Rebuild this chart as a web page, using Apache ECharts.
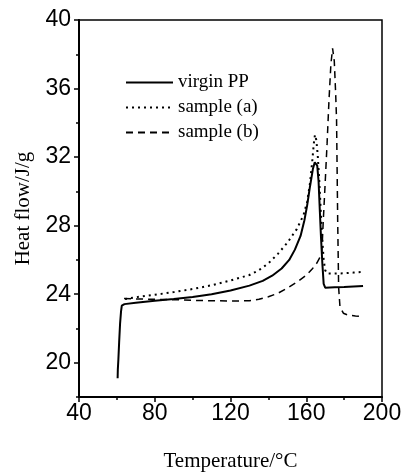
<!DOCTYPE html>
<html>
<head>
<meta charset="utf-8">
<script src="https://cdn.jsdelivr.net/npm/echarts@6/dist/echarts.min.js"></script>
<style>
  html, body { margin: 0; padding: 0; background: #fff; }
  #chart { width: 401px; height: 472px; }
</style>
</head>
<body>
<div id="chart"></div>
<script>
// virgin PP (solid)
var virginT = [60.4, 60.5, 60.8, 61.2, 61.7, 62.2, 62.6, 64, 70, 80, 90, 100, 110, 120, 130, 137, 142, 147, 151, 154, 157, 159, 160.5, 162, 163.5, 164.5, 165.1, 165.8, 166.5, 167.2, 167.8, 168.5, 169.2, 170, 175, 180, 185, 190];
var virginH = [19.1, 19.6, 20.2, 21.2, 22.3, 23.0, 23.33, 23.42, 23.5, 23.62, 23.72, 23.83, 24.0, 24.22, 24.5, 24.78, 25.08, 25.5, 26.0, 26.6, 27.4, 28.3, 29.2, 30.3, 31.3, 31.7, 31.8, 31.5, 30.6, 28.8, 27.3, 25.8, 24.6, 24.38, 24.4, 24.42, 24.45, 24.48];

// sample (a) (dotted)
var sampleAT = [64.3, 70, 80, 90, 100, 110, 120, 130, 135, 140, 145, 150, 155, 158.5, 160.5, 162, 163.2, 164, 164.6, 165.3, 166, 166.8, 167.6, 168.4, 169.2, 170, 171, 175, 180, 185, 190];
var sampleAH = [23.72, 23.82, 23.97, 24.12, 24.3, 24.52, 24.8, 25.12, 25.4, 25.8, 26.35, 27.0, 27.8, 28.6, 29.4, 30.5, 31.8, 32.8, 33.3, 33.0, 32.2, 30.8, 29.0, 27.3, 26.0, 25.4, 25.2, 25.2, 25.22, 25.26, 25.3];

// sample (b) (dashed)
var sampleBT = [63.8, 70, 80, 90, 100, 110, 120, 130, 135, 140, 145, 150, 155, 160, 163, 165.5, 167, 168.2, 169, 170, 171, 172, 173, 173.9, 174.8, 175.5, 176, 176.6, 177.1, 177.8, 179.6, 182, 186, 190];
var sampleBH = [23.75, 23.72, 23.7, 23.68, 23.64, 23.62, 23.6, 23.62, 23.7, 23.85, 24.05, 24.35, 24.7, 25.1, 25.45, 25.8, 26.1, 26.4, 28.3, 30.5, 32.8, 35.3, 37.4, 38.35, 37.6, 35.8, 34.2, 28.3, 24.4, 23.27, 22.89, 22.78, 22.73, 22.69];

var yLabels = [20, 24, 28, 32, 36, 40];

function pairs(xs, ys) {
    var out = [];
    for (let i = 0; i < xs.length; i++) {
        out.push([xs[i], ys[i]]);
    }
    return out;
}

var myChart = echarts.init(document.getElementById('chart'));

var numFont = 'Liberation Sans';
var textFont = 'Liberation Serif';

var chart_option = {
    backgroundColor: '#fff',
    animation: false,
    grid: {
        left: 79,
        right: 19,
        top: 20,
        bottom: 75,
        containLabel: false,
        outerBoundsMode: 'none',
        show: true,
        borderColor: '#000',
        borderWidth: 1.5
    },
    legend: {
        orient: 'vertical',
        left: 125,
        top: 73,
        padding: 0,
        itemWidth: 47,
        itemHeight: 14,
        itemGap: 6,
        itemStyle: { opacity: 0 },
        textStyle: {
            fontFamily: textFont,
            fontSize: 19,
            color: '#000'
        },
        data: ['virgin PP', 'sample (a)', 'sample (b)']
    },
    xAxis: {
        type: 'value',
        min: 40,
        max: 200,
        interval: 40,
        name: 'Temperature/°C',
        nameLocation: 'middle',
        nameGap: 54,
        nameTextStyle: {
            fontFamily: textFont,
            fontSize: 21,
            color: '#000'
        },
        axisLine: { lineStyle: { color: '#000', width: 2 } },
        axisTick: { inside: false, length: 5, lineStyle: { color: '#000', width: 1.5 } },
        minorTick: { show: true, splitNumber: 2, length: 3, lineStyle: { color: '#000', width: 1.5 } },
        axisLabel: {
            margin: 5,
            fontFamily: numFont,
            fontSize: 23,
            color: '#000'
        },
        splitLine: { show: false }
    },
    yAxis: [{
        type: 'value',
        min: 18,
        max: 40,
        name: 'Heat flow/J/g',
        nameLocation: 'middle',
        nameGap: 45,
        nameTextStyle: {
            fontFamily: textFont,
            fontSize: 21,
            color: '#000'
        },
        axisLine: { show: true, lineStyle: { color: '#000', width: 2 } },
        axisTick: { show: true, inside: false, length: 5, customValues: yLabels, lineStyle: { color: '#000', width: 1.5 } },
        axisLabel: {
            margin: 8,
            customValues: yLabels,
            fontFamily: numFont,
            fontSize: 23,
            color: '#000'
        },
        splitLine: { show: false }
    }, {
        // minor ticks every 2
        type: 'value',
        position: 'left',
        min: 18,
        max: 40,
        interval: 2,
        axisLine: { show: false },
        axisTick: { show: true, inside: false, length: 3, lineStyle: { color: '#000', width: 1.5 } },
        axisLabel: { show: false },
        splitLine: { show: false }
    }],
    series: [{
        name: 'virgin PP',
        type: 'line',
        symbol: 'none',
        data: pairs(virginT, virginH),
        lineStyle: { color: '#000', width: 2, type: 'solid' },
        itemStyle: { color: '#000' }
    }, {
        name: 'sample (a)',
        type: 'line',
        symbol: 'none',
        data: pairs(sampleAT, sampleAH),
        lineStyle: { color: '#000', width: 2, type: [2, 4] },
        itemStyle: { color: '#000' }
    }, {
        name: 'sample (b)',
        type: 'line',
        symbol: 'none',
        data: pairs(sampleBT, sampleBH),
        lineStyle: { color: '#000', width: 1.5, type: [7, 5] },
        itemStyle: { color: '#000' }
    }]
};
myChart.setOption(chart_option);
</script>
</body>
</html>
